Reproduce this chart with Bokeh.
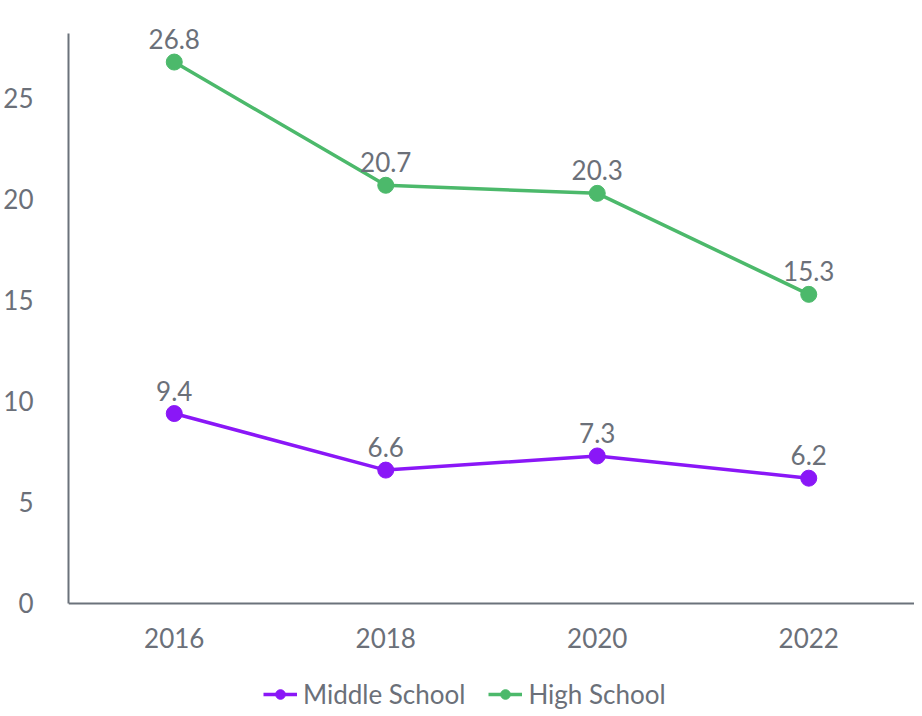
from bokeh.plotting import figure
from bokeh.models import ColumnDataSource, Range1d, Legend, LegendItem, FixedTicker
from bokeh.core.properties import value
from bokeh.embed import file_html
from bokeh.resources import INLINE

years = ["2016", "2018", "2020", "2022"]
middle_school = [9.4, 6.6, 7.3, 6.2]
high_school = [26.8, 20.7, 20.3, 15.3]
y_ticks = [0, 5, 10, 15, 20, 25]

PURPLE = "#8a17f7"
GREEN = "#4cb96b"
TEXT = "#6b7079"
AXIS = "#6b727b"
FONT = "Lato"
FS = "26px"

p = figure(x_range=years, y_range=Range1d(-5.4, 29.6), width=914, height=712,
           output_backend="svg", toolbar_location=None,
           min_border_left=60, min_border_right=0, min_border_top=5, min_border_bottom=0)
p.outline_line_color = None
p.xgrid.grid_line_color = None
p.ygrid.grid_line_color = None

ms = ColumnDataSource(dict(x=years, y=middle_school, t=[f"{v:.1f}" for v in middle_school]))
hs = ColumnDataSource(dict(x=years, y=high_school, t=[f"{v:.1f}" for v in high_school]))

items = []
for src, col, name in [(ms, PURPLE, "Middle School"), (hs, GREEN, "High School")]:
    l = p.line("x", "y", source=src, line_color=col, line_width=3.5)
    c = p.scatter("x", "y", source=src, size=16, fill_color=col, line_color=col)
    p.text("x", "y", text="t", source=src, text_align="center", text_baseline="bottom",
           y_offset=-13, text_font=value(FONT), text_font_size=FS, text_color=TEXT)
    items.append(LegendItem(label=name, renderers=[l, c]))

legend = Legend(items=items, orientation="horizontal", location=(195, 2),
                label_text_font=FONT, label_text_font_size=FS, label_text_color=TEXT,
                border_line_color=None, background_fill_alpha=0,
                glyph_width=34, glyph_height=24, label_height=24,
                spacing=23, margin=0, padding=0, label_standoff=6)
p.add_layout(legend)

for ax in (p.xaxis, p.yaxis):
    ax.axis_line_color = AXIS
    ax.axis_line_width = 2
    ax.major_tick_line_color = None
    ax.minor_tick_line_color = None
    ax.major_label_text_font = FONT
    ax.major_label_text_font_size = FS
    ax.major_label_text_color = TEXT
p.xaxis.fixed_location = 0
p.yaxis.bounds = (0, 28.2)
p.yaxis.ticker = FixedTicker(ticks=y_ticks)
p.yaxis.major_label_standoff = 29
p.xaxis.major_label_standoff = 19

open("out.html", "w").write(file_html(p, INLINE))
